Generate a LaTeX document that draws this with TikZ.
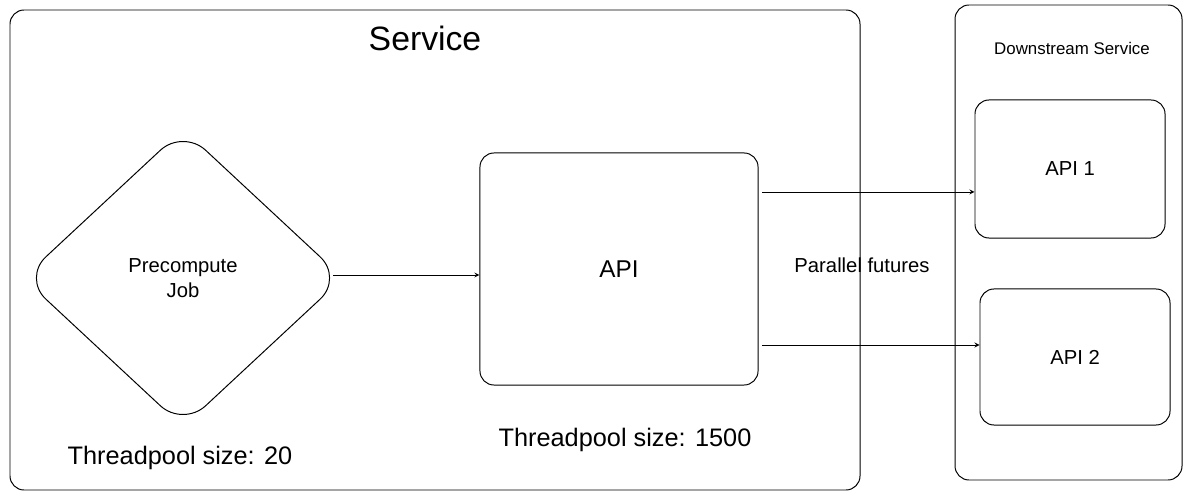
\documentclass[tikz,border=0pt]{standalone}
\usepackage{fontspec}
\setmainfont{Liberation Sans}
\usetikzlibrary{shapes.geometric,positioning}

\begin{document}
\begin{tikzpicture}[x=0.025cm,y=-0.025cm,>=stealth,
  box/.style={draw,rounded corners=10pt,line width=0.7pt},
  job/.style={draw,diamond,rounded corners=22pt,line width=0.7pt,
    minimum width=8cm,minimum height=7.45cm,align=center,font=\Large},
  conn/.style={->,line width=0.6pt}]
  \useasboundingbox (0,0) rectangle (1200,497);
  % outer frames
  \draw[box] (10,10) rectangle (860,490);
  \draw[box] (955,5) rectangle (1182,480);
  \node (svc) at (425,38) {\fontsize{24}{26}\selectfont Service};
  \node (ds) at (1072,48) {\large Downstream Service};
  % inner nodes
  \node[job] (pre) at (183,278) {Precompute\\Job};
  \node[box,minimum width=6.95cm,minimum height=5.8cm,font=\LARGE] (api) at (619,269) {API};
  \node[box,minimum width=4.75cm,minimum height=3.45cm,font=\Large] (api1) at (1070,169) {API 1};
  \node[box,minimum width=4.75cm,minimum height=3.4cm,font=\Large] (api2) at (1075,357) {API 2};
  \node (tp1) at (180,458) {\fontsize{18}{20}\selectfont Threadpool size: 20};
  \node (tp2) at (625,440) {\fontsize{18}{20}\selectfont Threadpool size: 1500};
  \node (par) at (862,265) {\Large Parallel futures};
  % connectors
  \coordinate (f0) at (333,275);
  \coordinate (f1) at (762,192);
  \coordinate (f2) at (762,345);
  \draw[conn] (f0) -- (f0 -| api.west);
  \draw[conn] (f1) -- (f1 -| api1.west);
  \draw[conn] (f2) -- (f2 -| api2.west);
\end{tikzpicture}
\end{document}
